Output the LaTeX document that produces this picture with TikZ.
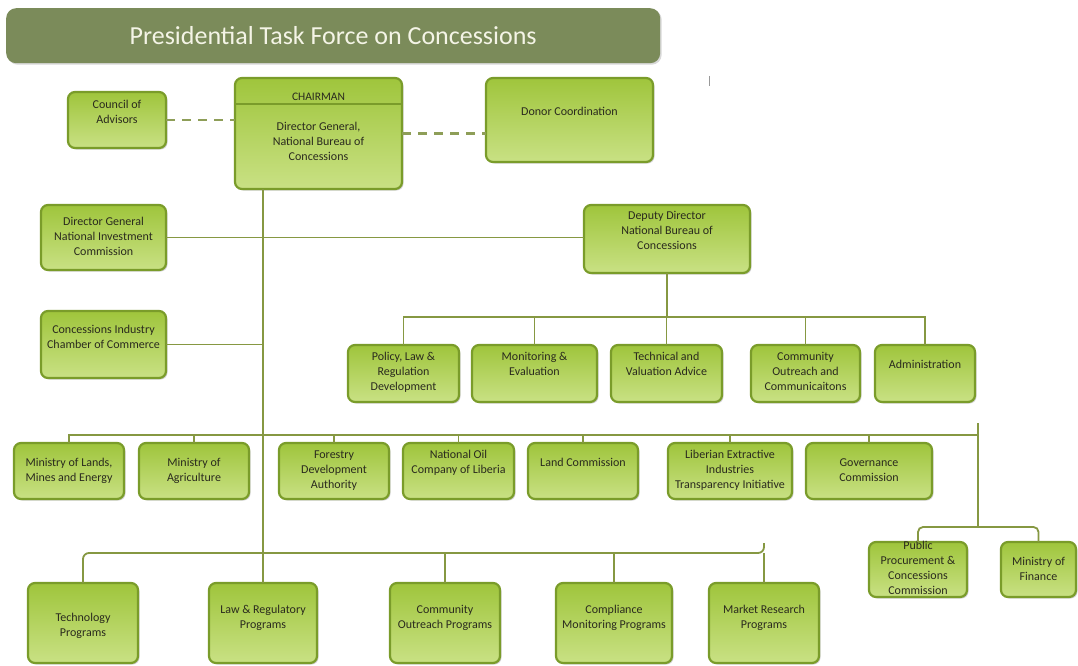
\documentclass[tikz,border=0pt]{standalone}
\usepackage{fontspec}
\setmainfont{Carlito}
\usetikzlibrary{shadows,calc}
\definecolor{boxedge}{HTML}{7A9C2A}
\definecolor{boxtop}{HTML}{9FC53C}
\definecolor{boxbot}{HTML}{C9E184}
\definecolor{conncol}{HTML}{869842}
\definecolor{dashcol}{HTML}{8E9E58}
\definecolor{titlefill}{HTML}{7B8B5A}
\definecolor{titletext}{HTML}{F4F4E6}
\definecolor{txtcol}{HTML}{2A2A1E}
\tikzset{
  orgbox/.style={draw=boxedge, line width=2.2pt, rounded corners=7pt, top color=boxtop, bottom color=boxbot,
    inner sep=0pt, outer sep=0pt,
    drop shadow={shadow xshift=1.5pt, shadow yshift=-1.5pt, opacity=0.3, fill=black!60}},
  orgtxt/.style={font=\fontsize{12}{15}\selectfont, align=center, inner sep=0pt, text=txtcol},
  conn/.style={draw=conncol, line width=1.8pt},
  dashline/.style={draw=dashcol, line width=2.4pt, dash pattern=on 9pt off 7pt},
  titlebar/.style={fill=titlefill, rounded corners=10pt, inner sep=0pt, text=titletext,
    font=\fontsize{26}{30}\selectfont,
    drop shadow={shadow xshift=1.5pt, shadow yshift=-1.5pt, opacity=0.25, fill=black!60}}
}
\newcommand{\orgbox}[7]{%
  \node[orgbox, minimum width={#4-#2}, minimum height={#5-#3}, anchor=north west] (#1) at (#2,#3) {};
  \node[orgtxt, anchor=north] (#1-t) at ({(#2+#4)/2},{#6-5}) {\rule{0pt}{8.5pt}#7};}
\begin{document}
\begin{tikzpicture}[x=1pt,y=-1pt]
\useasboundingbox[fill=white] (0,0) rectangle (1078,666);

% title
\node[titlebar, minimum width=654, minimum height=55, anchor=north west] (title) at (6,8) {Presidential Task Force on Concessions};

% top row
\orgbox{council}{68}{92}{166}{148}{105}{Council of\\Advisors}
\node[orgbox, minimum width=167, minimum height=111, anchor=north west] (chair) at (235,78) {};
\node[orgtxt, font=\fontsize{11.5}{14}\selectfont, anchor=north] (chair-h) at (318.5,{97-5}) {\rule{0pt}{8pt}CHAIRMAN};
\coordinate (cdl) at (236,104);
\coordinate (cdr) at (401,104);
\draw[draw=boxedge, line width=1.6pt] (cdl) -- (cdr);
\node[orgtxt, anchor=north] (chair-t) at (318.5,{127-5}) {\rule{0pt}{8.5pt}Director General,\\National Bureau of\\Concessions};
\orgbox{donor}{486}{78}{653}{162}{112}{Donor Coordination}

% second level
\orgbox{dgnic}{41}{205}{166}{270}{222}{Director General\\National Investment\\Commission}
\orgbox{deputy}{584}{205}{750}{273}{216}{Deputy Director\\National Bureau of\\Concessions}
\orgbox{cicc}{41}{311}{166}{378}{330}{Concessions Industry\\Chamber of Commerce}

% deputy units
\orgbox{policy}{348}{345}{459}{402}{357}{Policy, Law \&\\Regulation\\Development}
\orgbox{monit}{472}{345}{597}{402}{357}{Monitoring \&\\Evaluation}
\orgbox{tech}{611}{345}{722}{402}{357}{Technical and\\Valuation Advice}
\orgbox{comm}{751}{345}{860}{402}{357}{Community\\Outreach and\\Communicaitons}
\orgbox{admin}{875}{345}{975}{402}{365}{Administration}

% third row
\orgbox{lands}{14}{443}{124}{499}{463}{Ministry of Lands,\\Mines and Energy}
\orgbox{agri}{139}{443}{249}{499}{463}{Ministry of\\Agriculture}
\orgbox{forest}{279}{443}{389}{499}{455}{Forestry\\Development\\Authority}
\orgbox{oil}{403}{443}{514}{499}{455}{National Oil\\Company of Liberia}
\orgbox{landc}{528}{443}{638}{499}{463}{Land Commission}
\orgbox{leiti}{668}{443}{792}{499}{455}{Liberian Extractive\\Industries\\Transparency Initiative}
\orgbox{gov}{806}{443}{932}{499}{463}{Governance\\Commission}
\orgbox{ppcc}{869}{542}{967}{597}{546}{Public\\Procurement \&\\Concessions\\Commission}
\orgbox{mof}{1001}{542}{1076}{597}{562}{Ministry of\\Finance}

% programs
\orgbox{techp}{28}{583}{138}{663}{618}{Technology\\Programs}
\orgbox{lawp}{209}{583}{317}{663}{610}{Law \& Regulatory\\Programs}
\orgbox{commp}{390}{583}{500}{663}{610}{Community\\Outreach Programs}
\orgbox{compp}{556}{583}{672}{663}{610}{Compliance\\Monitoring Programs}
\orgbox{mktp}{709}{583}{819}{663}{610}{Market Research\\Programs}

% helper coordinates
\coordinate (bus2) at (666,317);
\coordinate (bus3) at (978,435);
\coordinate (r3top) at (978,423);
\coordinate (r3bot) at (978,527);
\coordinate (bus4) at (764,553);
\coordinate (r4) at (764,543);
\coordinate (tick1) at (709,76);
\coordinate (tick2) at (709,86);

% connectors
\draw[dashline] (council.east) -- (council.east -| chair.west);
\draw[dashline] (chair.east) -- (chair.east -| donor.west);
\draw[conn] (chair.south -| lawp.north) -- (lawp.north);
\draw[conn] (dgnic.east) -- (dgnic.east -| deputy.west);
\draw[conn] (cicc.east) -- (cicc.east -| lawp.north);
\draw[conn] (deputy.south) -- (deputy.south |- bus2);
\draw[conn] (policy.north) -- (policy.north |- bus2) -- (admin.north |- bus2) -- (admin.north);
\foreach \n in {monit,tech,comm} \draw[conn] (\n.north) -- (\n.north |- bus2);
\draw[conn] (lands.north) -- (lands.north |- bus3) -- (bus3);
\foreach \n in {agri,forest,oil,landc,leiti,gov} \draw[conn] (\n.north) -- (\n.north |- bus3);
\draw[conn] (r3top) -- (r3bot);
\draw[conn, rounded corners=5pt] (ppcc.north) -- (ppcc.north |- r3bot) -- (mof.north |- r3bot) -- (mof.north);
\draw[conn, rounded corners=6pt] (techp.north) -- (techp.north |- bus4) -- (bus4) -- (r4);
\foreach \n in {commp,compp,mktp} \draw[conn] (\n.north) -- (\n.north |- bus4);
\draw[draw=black!40, line width=0.8pt] (tick1) -- (tick2);
\end{tikzpicture}
\end{document}
